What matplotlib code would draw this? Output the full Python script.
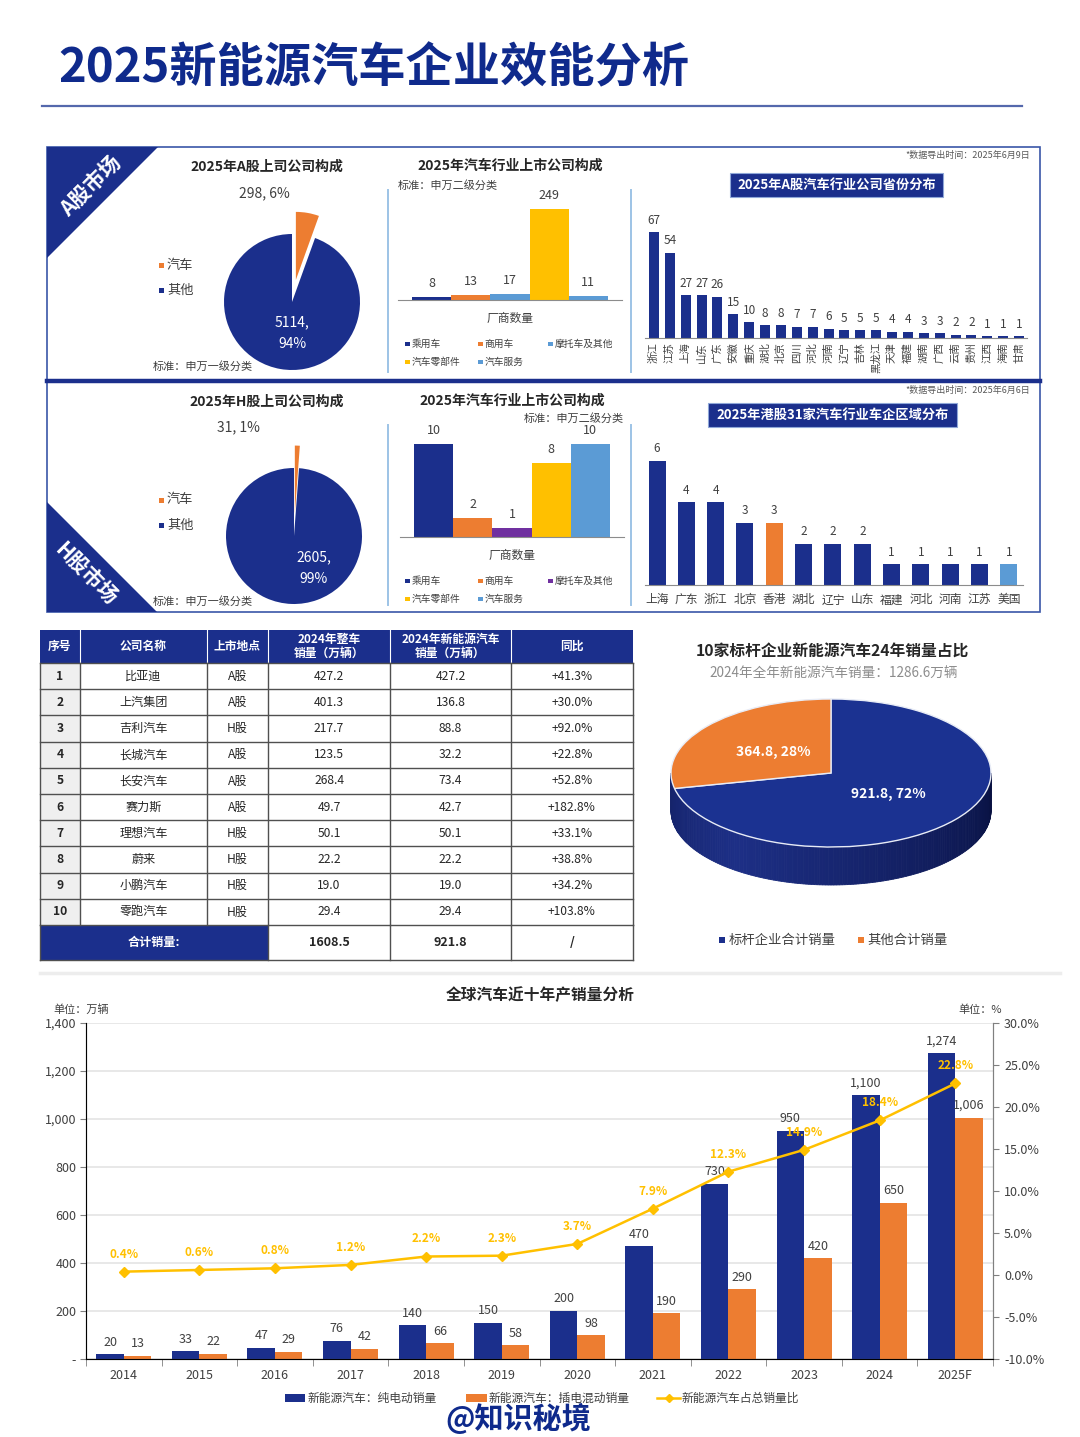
import matplotlib

matplotlib.use("Agg")
import matplotlib.pyplot as plt
import matplotlib.ticker as mticker
from matplotlib.colors import to_rgb
from matplotlib.patches import Polygon, Rectangle
import numpy as np

plt.rcParams["font.family"] = ["Noto Sans CJK SC", "DejaVu Sans"]

# ── palette ───────────────────────────────────────────────────────────────────
NAVY = "#1b2f8c"
TITLE_NAVY = "#0f2a8c"
ORANGE = "#ed7d31"
YELLOW = "#ffc000"
LIGHT_BLUE = "#5b9bd5"
PURPLE = "#7030a0"
TEXT = "#262626"
SUBTEXT = "#404040"
DIVIDER = "#9dc3e6"
GRID = "#e4e4e4"

# ── data ──────────────────────────────────────────────────────────────────────
PIE_LABELS = ["汽车", "其他"]
A_PIE_VALUES = [298, 5114]
H_PIE_VALUES = [31, 2605]

SEG_LABELS = ["乘用车", "商用车", "摩托车及其他", "汽车零部件", "汽车服务"]
A_SEG_VALUES = [8, 13, 17, 249, 11]
H_SEG_VALUES = [10, 2, 1, 8, 10]

A_PROVINCES = ["浙江", "江苏", "上海", "山东", "广东", "安徽", "重庆", "湖北",
               "北京", "四川", "河北", "河南", "辽宁", "吉林", "黑龙江", "天津",
               "福建", "湖南", "广西", "云南", "贵州", "江西", "海南", "甘肃"]
A_PROVINCE_VALUES = [67, 54, 27, 27, 26, 15, 10, 8, 8, 7, 7, 6, 5, 5, 5, 4,
                     4, 3, 3, 2, 2, 1, 1, 1]

H_REGIONS = ["上海", "广东", "浙江", "北京", "香港", "湖北", "辽宁", "山东",
             "福建", "河北", "河南", "江苏", "美国"]
H_REGION_VALUES = [6, 4, 4, 3, 3, 2, 2, 2, 1, 1, 1, 1, 1]

TABLE_HEADERS = ["序号", "公司名称", "上市地点", "2024年整车\n销量（万辆）",
                 "2024年新能源汽车\n销量（万辆）", "同比"]
COMPANIES = ["比亚迪", "上汽集团", "吉利汽车", "长城汽车", "长安汽车",
             "赛力斯", "理想汽车", "蔚来", "小鹏汽车", "零跑汽车"]
MARKETS = ["A股", "A股", "H股", "A股", "A股", "A股", "H股", "H股", "H股", "H股"]
TOTAL_SALES = [427.2, 401.3, 217.7, 123.5, 268.4, 49.7, 50.1, 22.2, 19.0, 29.4]
NEV_SALES = [427.2, 136.8, 88.8, 32.2, 73.4, 42.7, 50.1, 22.2, 19.0, 29.4]
NEV_YOY = [41.3, 30.0, 92.0, 22.8, 52.8, 182.8, 33.1, 38.8, 34.2, 103.8]

BENCH_LABELS = ["标杆企业合计销量", "其他合计销量"]
BENCH_VALUES = [921.8, 364.8]

YEARS = ["2014", "2015", "2016", "2017", "2018", "2019", "2020", "2021",
         "2022", "2023", "2024", "2025F"]
BEV = [20, 33, 47, 76, 140, 150, 200, 470, 730, 950, 1100, 1274]
PHEV = [13, 22, 29, 42, 66, 58, 98, 190, 290, 420, 650, 1006]
NEV_SHARE = [0.4, 0.6, 0.8, 1.2, 2.2, 2.3, 3.7, 7.9, 12.3, 14.9, 18.4, 22.8]

# ── canvas (pixel helpers) ────────────────────────────────────────────────────
W, H = 1080, 1437
fig = plt.figure(figsize=(W / 100, H / 100), dpi=100)
fig.patch.set_facecolor("white")


def px_axes(x0, y0, x1, y1, zorder=1):
    ax = fig.add_axes([x0 / W, 1 - y1 / H, (x1 - x0) / W, (y1 - y0) / H], zorder=zorder)
    ax.set_facecolor("none")
    return ax


bg = px_axes(0, 0, W, H, zorder=0)
bg.set_xlim(0, W)
bg.set_ylim(H, 0)
bg.axis("off")


def square_item(x, y, color, label, size=8, sq=6, gap=3):
    bg.add_patch(Rectangle((x, y - sq / 2), sq, sq, color=color, lw=0))
    bg.text(x + sq + gap, y, label, fontsize=size, color=SUBTEXT, va="center", ha="left")


# ── header ────────────────────────────────────────────────────────────────────
bg.text(58, 68, "2025新能源汽车企业效能分析", fontsize=34, fontweight="heavy",
        color=TITLE_NAVY, ha="left", va="center")
bg.plot([42, 1022], [106, 106], color="#5468ac", lw=1.6)

# ── A / H panel frame ─────────────────────────────────────────────────────────
bg.add_patch(Rectangle((47, 147), 993, 465, fill=False, edgecolor="#3a56a8", lw=1.2))
bg.plot([47, 1040], [380.5, 380.5], color=NAVY, lw=3.2)
for x in (388, 631):
    bg.plot([x, x], [190, 372], color=DIVIDER, lw=1.4)
    bg.plot([x, x], [425, 605], color=DIVIDER, lw=1.4)

bg.add_patch(Polygon([(47, 147), (158, 147), (47, 258)], color=NAVY, lw=0))
bg.text(91, 186, "A股市场", rotation=45, fontsize=15, fontweight="bold", color="white",
        ha="center", va="center")
bg.add_patch(Polygon([(47, 612), (47, 502), (157, 612)], color=NAVY, lw=0))
bg.text(86, 574, "H股市场", rotation=-45, fontsize=15, fontweight="bold", color="white",
        ha="center", va="center")


# ── left pies ─────────────────────────────────────────────────────────────────
def draw_pie(cx, cy, r, values, title, ty, out_pos, in_pos):
    ax = px_axes(cx - 100, cy - 100, cx + 100, cy + 100)
    ax.pie(values, colors=[ORANGE, NAVY], startangle=90, counterclock=False,
           explode=[0.33, 0], wedgeprops=dict(linewidth=0))
    lim = 100 / r
    ax.set_xlim(-lim, lim)
    ax.set_ylim(-lim, lim)
    total = sum(values)
    ax.text(*out_pos, f"{values[0]}, {values[0] / total * 100:.0f}%", fontsize=10,
            color=SUBTEXT, ha="center", va="center")
    ax.text(*in_pos, f"{values[1]},\n{values[1] / total * 100:.0f}%", fontsize=10,
            color="white", ha="center", va="center", linespacing=1.7)
    bg.text(267, ty, title, fontsize=10, fontweight="bold", color=TEXT, ha="center", va="center")
    bg.text(153, ty + 199, "标准：申万一级分类", fontsize=8, color=SUBTEXT, ha="left", va="center")
    square_item(159, ty + 98, ORANGE, PIE_LABELS[0], size=9.5, sq=5)
    square_item(159, ty + 123, NAVY, PIE_LABELS[1], size=9.5, sq=5)


draw_pie(292, 302, 68, A_PIE_VALUES, "2025年A股上司公司构成", 167, (-0.4, 1.6), (0, -0.46))
draw_pie(294, 536, 68, H_PIE_VALUES, "2025年H股上司公司构成", 402, (-0.82, 1.6), (0.29, -0.47))


# ── middle segment bars ───────────────────────────────────────────────────────
def draw_segments(x0, x1, base, ppu, values, colors, bar_l, bar_r, title, ty, std_pos, std_ha):
    n = len(values)
    unit = (bar_r - bar_l) / n
    ax = px_axes(x0, base - 115, x1, base)
    ax.bar(range(n), values, width=1.0, color=colors, zorder=2)
    ax.set_xlim(-0.5 - (bar_l - x0) / unit, n - 0.5 + (x1 - bar_r) / unit)
    ax.set_ylim(0, 115 / ppu)
    for i, v in enumerate(values):
        ax.annotate(f"{v}", (i, v), xytext=(0, 5), textcoords="offset points",
                    ha="center", va="bottom", fontsize=9, color=SUBTEXT)
    ax.spines[["top", "right", "left"]].set_visible(False)
    ax.spines["bottom"].set_color("#8c8c8c")
    ax.set_xticks([])
    ax.set_yticks([])
    cx = (x0 + x1) / 2
    bg.text(cx, ty, title, fontsize=10, fontweight="bold", color=TEXT, ha="center", va="center")
    bg.text(*std_pos, "标准：申万二级分类", fontsize=8, color=SUBTEXT, ha=std_ha, va="center")
    bg.text(cx, base + 18, "厂商数量", fontsize=8.5, color=SUBTEXT, ha="center", va="center")
    spots = [(405, 0), (478, 0), (548, 0), (405, 18), (478, 18)]
    for (lx, dy), lab, col in zip(spots, SEG_LABELS, colors):
        square_item(lx, base + 44 + dy, col, lab, size=7, sq=4.5, gap=2)


draw_segments(398, 622, 300, 91 / 249, A_SEG_VALUES,
              [NAVY, ORANGE, LIGHT_BLUE, YELLOW, LIGHT_BLUE], 412, 608,
              "2025年汽车行业上市公司构成", 166, (398, 185), "left")
draw_segments(400, 624, 537, 9.3, H_SEG_VALUES,
              [NAVY, ORANGE, PURPLE, YELLOW, LIGHT_BLUE], 414, 610,
              "2025年汽车行业上市公司构成", 401, (624, 418), "right")


# ── right regional bars ───────────────────────────────────────────────────────
def title_box(x0, x1, y, text):
    bg.add_patch(Rectangle((x0, y - 12), x1 - x0, 24, facecolor=NAVY, edgecolor="#8fa7d8", lw=0.8))
    bg.text((x0 + x1) / 2, y, text, fontsize=9.5, fontweight="bold", color="white",
            ha="center", va="center")


def draw_regions(x0, x1, base, top, first_c, step, bar_px, ppu, labels, values, colors, rot, fsize):
    n = len(values)
    ax = px_axes(x0, top, x1, base)
    ax.bar(range(n), values, width=bar_px / step, color=colors, zorder=2)
    ax.set_xlim(-(first_c - x0) / step, (x1 - first_c) / step)
    ax.set_ylim(0, (base - top) / ppu)
    for i, v in enumerate(values):
        ax.annotate(f"{v}", (i, v), xytext=(0, 4), textcoords="offset points",
                    ha="center", va="bottom", fontsize=8.5, color=SUBTEXT)
    ax.spines[["top", "right", "left"]].set_visible(False)
    ax.spines["bottom"].set_color("#8c8c8c")
    ax.set_yticks([])
    ax.set_xticks(range(n), labels, rotation=rot, fontsize=fsize, color=SUBTEXT)
    ax.tick_params(axis="x", length=0, pad=3 if rot else 6)


bg.text(1030, 155, "*数据导出时间：2025年6月9日", fontsize=6.5, style="italic",
        color="#595959", ha="right", va="center")
title_box(730, 943, 185, "2025年A股汽车行业公司省份分布")
draw_regions(645, 1027, 338, 205, 654, 15.87, 10, 1.58, A_PROVINCES, A_PROVINCE_VALUES,
             NAVY, 90, 7.5)

HIGHLIGHT = {"香港": ORANGE, "美国": LIGHT_BLUE}
bg.text(1030, 390, "*数据导出时间：2025年6月6日", fontsize=6.5, style="italic",
        color="#595959", ha="right", va="center")
title_box(708, 957, 415, "2025年港股31家汽车行业车企区域分布")
draw_regions(645, 1023, 585, 440, 657, 29.33, 17, 20.7, H_REGIONS, H_REGION_VALUES,
             [HIGHLIGHT.get(r, NAVY) for r in H_REGIONS], 0, 8.5)

# ── table ─────────────────────────────────────────────────────────────────────
EDGES = [40, 80, 207, 268, 390, 511, 633]
HEAD_T, HEAD_B = 630, 663
ROW_H = 26.2
body_b = HEAD_B + ROW_H * len(COMPANIES)
TOTAL_B = 960
LINE = "#505050"

bg.add_patch(Rectangle((EDGES[0], HEAD_T), EDGES[-1] - EDGES[0], HEAD_B - HEAD_T, color=NAVY, lw=0))
for j, h in enumerate(TABLE_HEADERS):
    bg.text((EDGES[j] + EDGES[j + 1]) / 2, (HEAD_T + HEAD_B) / 2, h, fontsize=8.5,
            fontweight="bold", color="white", ha="center", va="center", linespacing=1.15)
for x in EDGES[1:-1]:
    bg.plot([x, x], [HEAD_T, HEAD_B], color="white", lw=0.8)

for i in range(len(COMPANIES)):
    y0 = HEAD_B + i * ROW_H
    yc = y0 + ROW_H / 2
    bg.add_patch(Rectangle((EDGES[0], y0), EDGES[1] - EDGES[0], ROW_H, color="#efefef", lw=0))
    cells = [str(i + 1), COMPANIES[i], MARKETS[i], f"{TOTAL_SALES[i]:.1f}",
             f"{NEV_SALES[i]:.1f}", f"+{NEV_YOY[i]:.1f}%"]
    for j, c in enumerate(cells):
        bg.text((EDGES[j] + EDGES[j + 1]) / 2, yc, c, fontsize=8.7, color=TEXT,
                fontweight="bold" if j == 0 else "normal", ha="center", va="center")

bg.add_patch(Rectangle((EDGES[0], body_b), EDGES[3] - EDGES[0], TOTAL_B - body_b, color=NAVY, lw=0))
tot_c = (body_b + TOTAL_B) / 2
bg.text((EDGES[0] + EDGES[3]) / 2, tot_c, "合计销量:", fontsize=8.7, fontweight="bold",
        color="white", ha="center", va="center")
for j, c in zip([3, 4, 5], [f"{sum(TOTAL_SALES):.1f}", f"{sum(NEV_SALES):.1f}", "/"]):
    bg.text((EDGES[j] + EDGES[j + 1]) / 2, tot_c, c, fontsize=9, fontweight="bold",
            color=TEXT, ha="center", va="center")

for i in range(len(COMPANIES) + 2):
    y = HEAD_B + i * ROW_H if i <= len(COMPANIES) else TOTAL_B
    bg.plot([EDGES[0], EDGES[-1]], [y, y], color=LINE, lw=1.0)
for x in EDGES:
    bg.plot([x, x], [HEAD_B, body_b], color=LINE, lw=1.0)
for x in (EDGES[0], EDGES[3], EDGES[4], EDGES[5], EDGES[6]):
    bg.plot([x, x], [body_b, TOTAL_B], color=LINE, lw=1.0)

# ── 3D benchmark pie ──────────────────────────────────────────────────────────
bg.text(832, 652, "10家标杆企业新能源汽车24年销量占比", fontsize=11.3, fontweight="bold",
        color=TEXT, ha="center", va="center")
bg.text(834, 673, "2024年全年新能源汽车销量：1286.6万辆", fontsize=9.8, color="#8c8c8c",
        ha="center", va="center")

PCX, PCY, PA, PB, DEPTH = 831, 773, 160, 74, 38
pax = px_axes(PCX - 170, 689, PCX + 170, 900)
bench_total = sum(BENCH_VALUES)
pax.pie(
    BENCH_VALUES, colors=["#1b3291", ORANGE], startangle=90, counterclock=False,
    wedgeprops=dict(edgecolor="#e8ecf6", linewidth=1.0),
    autopct=lambda p: f"{p * bench_total / 100:.1f}, {p:.0f}%", pctdistance=0.46,
    textprops=dict(color="white", fontsize=10, fontweight="bold"))
pax.set_aspect("auto")
pax.set_xlim(-170 / PA, 170 / PA)
pax.set_ylim(-(900 - PCY) / PB, (PCY - 689) / PB)

# side wall of the disc, shaded darker toward the edges
depth = DEPTH / PB
dark_n, mid_n = np.array(to_rgb("#070f3c")), np.array(to_rgb("#1d2f86"))
thetas = np.linspace(180, 360, 181)
for a, b in zip(thetas[:-1], thetas[1:]):
    t = ((a + b) / 2 - 180) / 180
    w = np.clip(1 - abs(t - 0.3) / 0.75, 0, 1)
    col = dark_n + (mid_n - dark_n) * w
    ra, rb = np.radians(a), np.radians(b)
    pts = [(np.cos(ra), np.sin(ra)), (np.cos(rb), np.sin(rb)),
           (np.cos(rb), np.sin(rb) - depth), (np.cos(ra), np.sin(ra) - depth)]
    pax.add_patch(Polygon(pts, facecolor=col, edgecolor=col, lw=0.6, zorder=0.5))

square_item(719, 940, NAVY, BENCH_LABELS[0], size=9.6, sq=5.5, gap=4)
square_item(858, 940, ORANGE, BENCH_LABELS[1], size=9.6, sq=5.5, gap=4)

bg.plot([40, 1060], [973, 973], color="#ededed", lw=2.5)

# ── global NEV sales combo chart ──────────────────────────────────────────────
bg.text(540, 995, "全球汽车近十年产销量分析", fontsize=11.3, fontweight="bold", color=TEXT,
        ha="center", va="center")
bg.text(53, 1010, "单位：万辆", fontsize=8, color=SUBTEXT, ha="left", va="center")
bg.text(958, 1010, "单位：%", fontsize=8, color=SUBTEXT, ha="left", va="center")

ax = px_axes(86, 1023, 993, 1359)
x = np.arange(len(YEARS))
bw = 0.364
ax.bar(x - bw / 2, BEV, bw, color=NAVY, zorder=2)
ax.bar(x + bw / 2, PHEV, bw, color=ORANGE, zorder=2)
for xs, vals in ((x - bw / 2, BEV), (x + bw / 2, PHEV)):
    for xi, v in zip(xs, vals):
        ax.annotate(f"{v:,}", (xi, v), xytext=(0, 4), textcoords="offset points",
                    ha="center", va="bottom", fontsize=9, color=SUBTEXT)
ax.set_xlim(-0.5, len(YEARS) - 0.5)
ax.set_ylim(0, 1400)
ax.set_yticks(range(0, 1401, 200))
ax.yaxis.set_major_formatter(mticker.FuncFormatter(lambda v, _: "-" if v == 0 else f"{v:,.0f}"))
ax.grid(axis="y", color=GRID, lw=1.2, zorder=0)
ax.set_axisbelow(True)
ax.set_xticks(x, YEARS)
ax.set_xticks(np.arange(-0.5, len(YEARS)), minor=True)
ax.tick_params(axis="x", which="major", length=0, pad=7, labelsize=9, labelcolor=SUBTEXT)
ax.tick_params(axis="x", which="minor", length=5, color="#808080")
ax.tick_params(axis="y", length=4, color="#808080", labelsize=9, labelcolor=SUBTEXT, pad=3)
ax.spines["top"].set_visible(False)
for s in ("left", "bottom", "right"):
    ax.spines[s].set_color("#808080")

ax2 = ax.twinx()
ax2.set_facecolor("none")
ax2.set_ylim(-10, 30)
ax2.set_yticks(range(-10, 31, 5))
ax2.yaxis.set_major_formatter(mticker.FuncFormatter(lambda v, _: f"{v:.1f}%"))
ax2.tick_params(axis="y", length=4, color="#808080", labelsize=9, labelcolor=SUBTEXT, pad=4)
ax2.spines["top"].set_visible(False)
ax2.spines["right"].set_color("#808080")
ax2.plot(x, NEV_SHARE, color=YELLOW, lw=1.8, marker="D", markersize=5, zorder=3)
for xi, v in zip(x, NEV_SHARE):
    ax2.annotate(f"{v}%", (xi, v), xytext=(0, 8), textcoords="offset points",
                 ha="center", va="bottom", fontsize=8.5, fontweight="bold", color=YELLOW)

# legend
bg.add_patch(Rectangle((285, 1394), 20, 8, color=NAVY, lw=0))
bg.text(308, 1398, "新能源汽车：纯电动销量", fontsize=8.5, color=SUBTEXT, ha="left", va="center")
bg.add_patch(Rectangle((466, 1394), 21, 8, color=ORANGE, lw=0))
bg.text(489, 1398, "新能源汽车：插电混动销量", fontsize=8.5, color=SUBTEXT, ha="left", va="center")
bg.plot([657, 680], [1398, 1398], color=YELLOW, lw=1.8)
bg.plot([668.5], [1398], color=YELLOW, marker="D", markersize=4.5)
bg.text(682, 1398, "新能源汽车占总销量比", fontsize=8.5, color=SUBTEXT, ha="left", va="center")

bg.text(518, 1418, "@知识秘境", fontsize=21, fontweight="heavy", color=TITLE_NAVY,
        ha="center", va="center")

fig.savefig("out.png", dpi=100, facecolor="white")
plt.close(fig)
